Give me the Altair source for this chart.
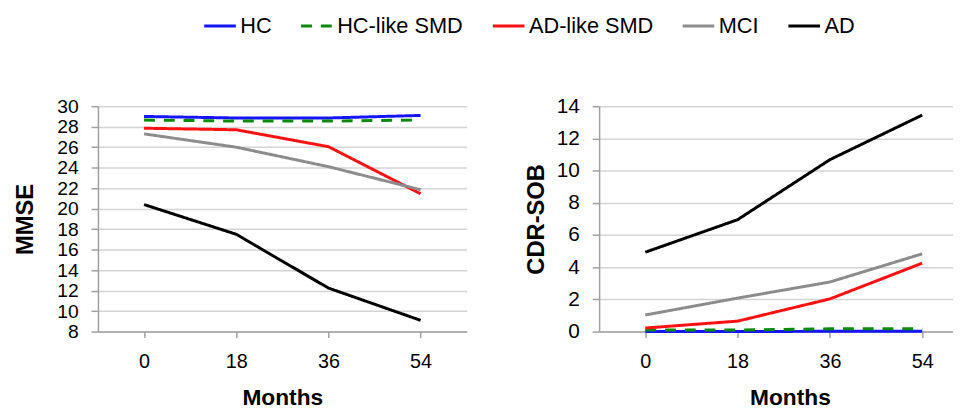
import altair as alt
import pandas as pd

months = [0, 18, 36, 54]
groups = ["HC", "HC-like SMD", "AD-like SMD", "MCI", "AD"]
colors = ["#1414ff", "#0a8a0a", "#ff1010", "#8c8c8c", "#000000"]
dashes = [[1, 0], [11, 9], [1, 0], [1, 0], [1, 0]]

mmse_hc = [29.0, 28.85, 28.85, 29.1]
mmse_hclike = [28.65, 28.55, 28.55, 28.65]
mmse_adlike = [27.85, 27.7, 26.05, 21.45]
mmse_mci = [27.3, 26.0, 24.1, 21.85]
mmse_ad = [20.4, 17.5, 12.25, 9.1]

cdr_hc = [0.0, 0.0, 0.02, 0.02]
cdr_hclike = [0.1, 0.1, 0.17, 0.17]
cdr_adlike = [0.22, 0.65, 2.03, 4.25]
cdr_mci = [1.03, 2.08, 3.08, 4.83]
cdr_ad = [4.93, 6.95, 10.68, 13.45]

def frame(series):
    rows = []
    for g, vals in zip(groups, series):
        for m, v in zip(months, vals):
            rows.append({"group": g, "month": m, "value": v})
    return pd.DataFrame(rows)

df_mmse = frame([mmse_hc, mmse_hclike, mmse_adlike, mmse_mci, mmse_ad])
df_cdr = frame([cdr_hc, cdr_hclike, cdr_adlike, cdr_mci, cdr_ad])

FONT = "Liberation Sans"

color_enc = alt.Color("group:N", title=None,
                      scale=alt.Scale(domain=groups, range=colors),
                      legend=alt.Legend(orient="none", direction="horizontal",
                                        legendX=106, legendY=-99, padding=0,
                                        symbolType="stroke", symbolSize=1024,
                                        symbolStrokeWidth=3, labelFontSize=22,
                                        labelFont=FONT, labelColor="#000",
                                        labelOffset=3, columnPadding=23,
                                        labelLimit=300))
dash_enc = alt.StrokeDash("group:N", title=None,
                          scale=alt.Scale(domain=groups, range=dashes))

def panel(df, ydom, ytitle, xdom, width, tp, lfs, titlex=None):
    xaxis_kwargs = dict(values=months, title="Months", grid=False,
                        labelFontSize=20, labelFont=FONT, labelColor="#000",
                        titleFontSize=23, titleFont=FONT, titleFontWeight="bold",
                        titleColor="#000", tickSize=6, labelPadding=14,
                        titlePadding=16, domainColor="#a0a0a0", tickColor="#a0a0a0",
                        domainWidth=1.5, tickWidth=1.5)
    if titlex is not None:
        xaxis_kwargs["titleX"] = titlex
    return alt.Chart(df).mark_line(strokeWidth=3).encode(
        x=alt.X("month:Q", scale=alt.Scale(domain=xdom, nice=False, zero=False),
                axis=alt.Axis(**xaxis_kwargs)),
        y=alt.Y("value:Q", scale=alt.Scale(domain=ydom, nice=False, zero=False),
                axis=alt.Axis(values=list(range(ydom[0], ydom[1] + 1, 2)),
                              title=ytitle, labelFontSize=lfs, labelFont=FONT,
                              labelColor="#000", labelOverlap=False,
                              titleFontSize=24, titleFont=FONT,
                              titleFontWeight="bold", titleColor="#000",
                              tickSize=7, labelPadding=13, titlePadding=tp,
                              gridColor="#d4d4d4", gridWidth=1.5,
                              domainColor="#a0a0a0", tickColor="#a0a0a0",
                              domainWidth=1.5, tickWidth=1.5)),
        color=color_enc,
        strokeDash=dash_enc,
        order=alt.Order("group:N"),
    ).properties(width=width, height=228)

left = panel(df_mmse, [8, 30], "MMSE", [-9, 63], 373, 20, 19.5)
right = panel(df_cdr, [0, 14], "CDR-SOB", [-9, 60], 358, 8, 21, titlex=193)

chart = alt.hconcat(left, right, spacing=58).configure_view(stroke=None).properties(
    padding={"left": 5, "top": -2, "right": 0, "bottom": 0}
)

chart.save("out.html", embed_options={"renderer": "svg", "actions": False})
